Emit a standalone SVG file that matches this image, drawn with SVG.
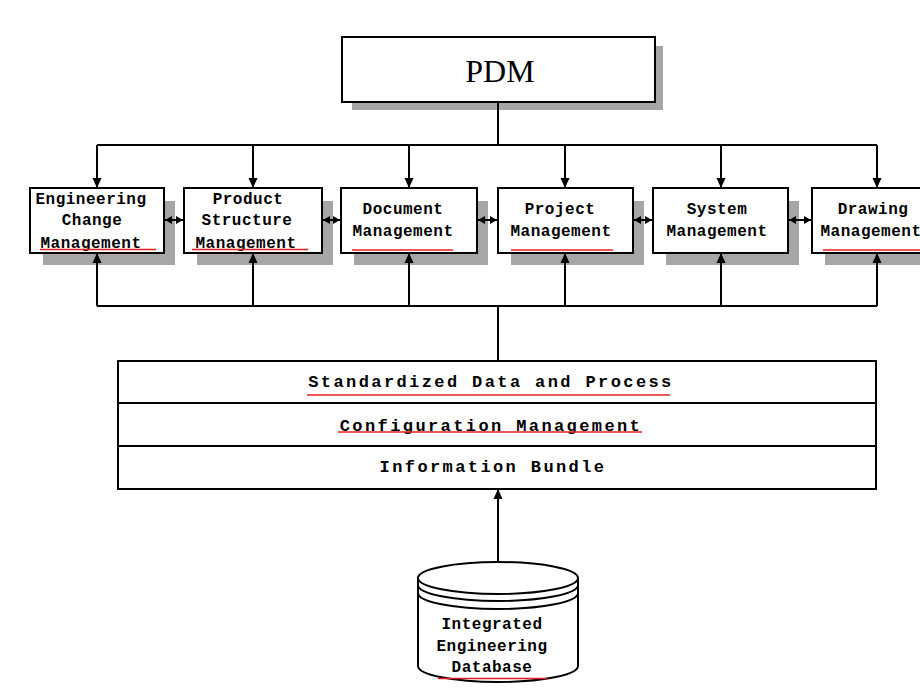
<svg xmlns="http://www.w3.org/2000/svg" width="920" height="690" viewBox="0 0 920 690">
<defs>
<marker id="ah" markerUnits="userSpaceOnUse" markerWidth="11" markerHeight="11" refX="10" refY="5.5" orient="auto-start-reverse" viewBox="0 0 11 11">
<path d="M0,1 L10,5.5 L0,10 z" fill="#000"/>
</marker>
<marker id="ah2" markerUnits="userSpaceOnUse" markerWidth="8" markerHeight="10" refX="7" refY="5" orient="auto-start-reverse" viewBox="0 0 8 10">
<path d="M0,1 L7,5 L0,9 z" fill="#000"/>
</marker>
<style>
.box{fill:#fff;stroke:#000;stroke-width:2}
.sh{fill:#a6a6a6}
.ln{fill:none;stroke:#000;stroke-width:2}
.t{font-family:"Liberation Mono","DejaVu Sans Mono",monospace;font-size:16px;letter-spacing:0.5px;text-anchor:middle;fill:#000;font-weight:bold}
.tb{font-family:"Liberation Mono","DejaVu Sans Mono",monospace;font-size:17px;letter-spacing:2.4px;text-anchor:middle;fill:#000;font-weight:bold}
.red{stroke:#e02020;stroke-width:1.5;fill:none}
</style>
</defs>
<rect width="920" height="690" fill="#fff"/>

<g id="pdm">
<rect class="sh" x="352" y="46" width="311" height="64"/>
<rect class="box" x="342" y="37" width="313" height="65"/>
<text x="500" y="82" font-family="Liberation Serif, serif" font-size="32" text-anchor="middle">PDM</text>
</g>

<g id="shadows">
<rect class="sh" x="43" y="201" width="132" height="64"/>
<rect class="sh" x="197" y="201" width="136" height="64"/>
<rect class="sh" x="354" y="201" width="134" height="64"/>
<rect class="sh" x="511" y="201" width="133" height="64"/>
<rect class="sh" x="666" y="201" width="133" height="64"/>
<rect class="sh" x="825" y="201" width="120" height="64"/>
</g>

<g id="ecm">
<rect class="box" x="30" y="188" width="134" height="65"/>
<text class="t" x="91" y="204">Engineering</text>
<text class="t" x="92" y="225">Change</text>
<text class="t" x="91" y="248">Management</text>
<line class="red" x1="40" y1="249.5" x2="156" y2="249.5"/>
</g>
<g id="psm">
<rect class="box" x="184" y="188" width="138" height="65"/>
<text class="t" x="248" y="204">Product</text>
<text class="t" x="247" y="225">Structure</text>
<text class="t" x="246" y="248">Management</text>
<line class="red" x1="192" y1="249.5" x2="308" y2="249.5"/>
</g>
<g id="dm">
<rect class="box" x="341" y="188" width="136" height="65"/>
<text class="t" x="403" y="214">Document</text>
<text class="t" x="403" y="236">Management</text>
<line class="red" x1="352" y1="250" x2="453" y2="250"/>
</g>
<g id="pm">
<rect class="box" x="498" y="188" width="135" height="65"/>
<text class="t" x="560" y="214">Project</text>
<text class="t" x="561" y="236">Management</text>
<line class="red" x1="511" y1="250" x2="613" y2="250"/>
</g>
<g id="sm">
<rect class="box" x="653" y="188" width="135" height="65"/>
<text class="t" x="717" y="214">System</text>
<text class="t" x="717" y="236">Management</text>
</g>
<g id="drm">
<rect class="box" x="812" y="188" width="130" height="65"/>
<text class="t" x="873" y="214">Drawing</text>
<text class="t" x="871" y="236">Management</text>
<line class="red" x1="823" y1="250" x2="920" y2="250"/>
</g>

<g id="layers">
<rect class="box" x="118" y="361" width="758" height="128"/>
<line class="ln" x1="118" y1="403" x2="876" y2="403"/>
<line class="ln" x1="118" y1="446" x2="876" y2="446"/>
<text class="tb" x="491" y="387">Standardized Data and Process</text>
<line class="red" x1="307" y1="395" x2="670" y2="395"/>
<text class="tb" x="491" y="431">Configuration Management</text>
<line class="red" x1="338" y1="432" x2="642" y2="432"/>
<text class="tb" x="493" y="472">Information Bundle</text>
</g>

<g id="db">
<path class="box" d="M418,578 V666 A80,16 0 0 0 578,666 V578"/>
<ellipse class="box" cx="498" cy="578" rx="80" ry="16"/>
<path class="ln" d="M418,585 A80,16 0 0 0 578,585"/>
<path class="ln" d="M418,593 A80,16 0 0 0 578,593"/>
<text class="t" x="492" y="629">Integrated</text>
<text class="t" x="492" y="651">Engineering</text>
<text class="t" x="492" y="672">Database</text>
<line class="red" x1="438" y1="678.5" x2="547" y2="678.5"/>
</g>

<g id="connectors">
<path class="ln" d="M498,102 V145 M97,145 H877"/>
<path class="ln" d="M97,145 V188" marker-end="url(#ah)"/>
<path class="ln" d="M253,145 V188" marker-end="url(#ah)"/>
<path class="ln" d="M409,145 V188" marker-end="url(#ah)"/>
<path class="ln" d="M565,145 V188" marker-end="url(#ah)"/>
<path class="ln" d="M721,145 V188" marker-end="url(#ah)"/>
<path class="ln" d="M877,145 V188" marker-end="url(#ah)"/>
<path class="ln" d="M97,306 H877 M498,306 V361"/>
<path class="ln" d="M97,306 V253" marker-end="url(#ah)"/>
<path class="ln" d="M253,306 V253" marker-end="url(#ah)"/>
<path class="ln" d="M409,306 V253" marker-end="url(#ah)"/>
<path class="ln" d="M565,306 V253" marker-end="url(#ah)"/>
<path class="ln" d="M721,306 V253" marker-end="url(#ah)"/>
<path class="ln" d="M877,306 V253" marker-end="url(#ah)"/>
<path class="ln" d="M165,220 H183" marker-start="url(#ah2)" marker-end="url(#ah2)"/>
<path class="ln" d="M323,220 H340" marker-start="url(#ah2)" marker-end="url(#ah2)"/>
<path class="ln" d="M478,220 H497" marker-start="url(#ah2)" marker-end="url(#ah2)"/>
<path class="ln" d="M634,220 H652" marker-start="url(#ah2)" marker-end="url(#ah2)"/>
<path class="ln" d="M789,220 H811" marker-start="url(#ah2)" marker-end="url(#ah2)"/>
<path class="ln" d="M498,562 V489" marker-end="url(#ah)"/>
</g>
</svg>
